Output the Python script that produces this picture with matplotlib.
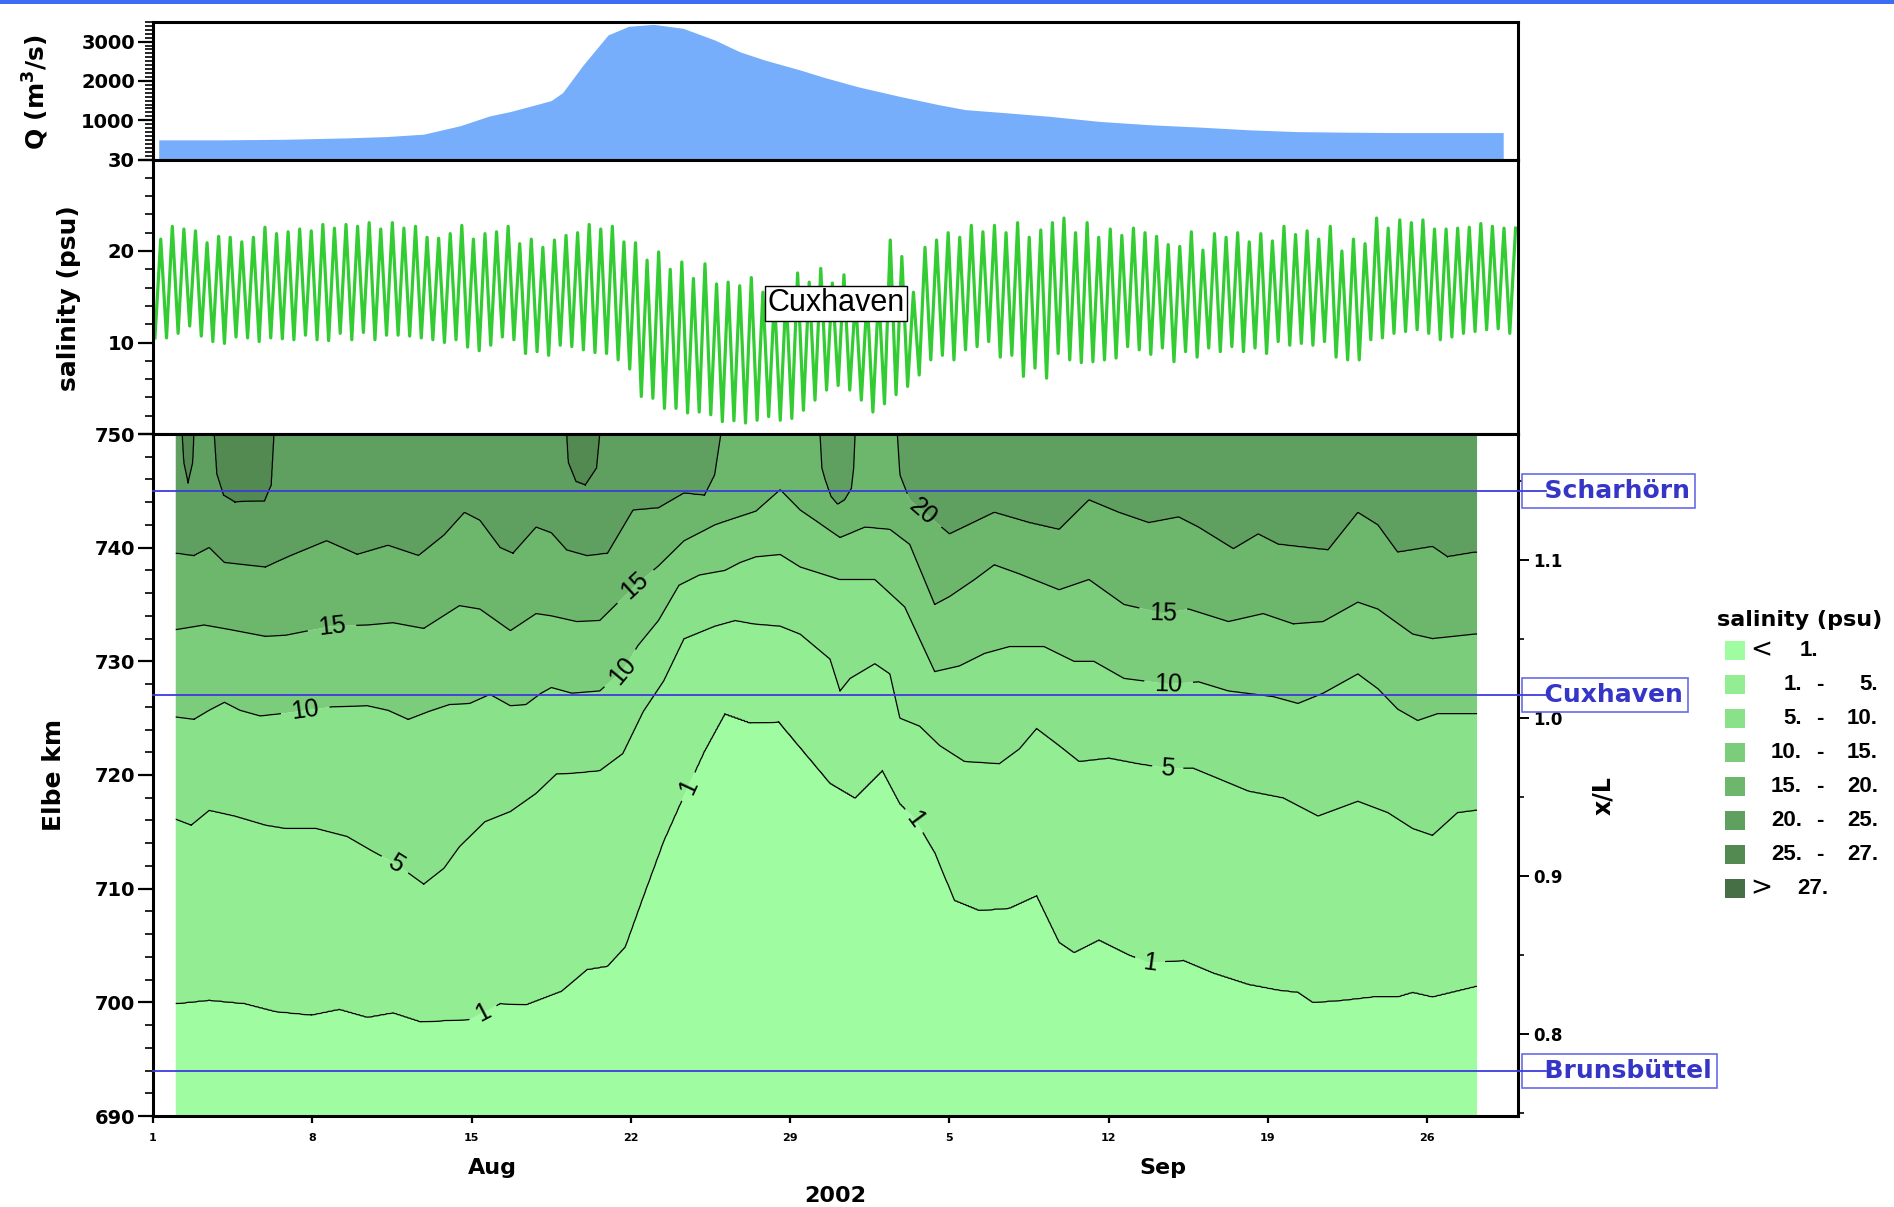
import numpy as np
import pandas as pd
import matplotlib
matplotlib.use('agg')
import matplotlib.pyplot as plt
import matplotlib.transforms as mtransforms
from matplotlib.patches import Rectangle
from matplotlib.ticker import MultipleLocator

plt.rcParams['font.family'] = ['DejaVu Sans']
plt.rcParams['font.weight'] = 'bold'
plt.rcParams['axes.labelweight'] = 'bold'

# --- time axis (days since 1 Aug 2002) ---
BASE = pd.Timestamp('2002-08-01')
tick_dates = pd.to_datetime(['2002-08-01', '2002-08-08', '2002-08-15', '2002-08-22', '2002-08-29',
                             '2002-09-05', '2002-09-12', '2002-09-19', '2002-09-26'])
tick_days = np.asarray((tick_dates - BASE).days, dtype=float)
tick_labels = [str(d.day) for d in tick_dates]
month_names = ['Aug', 'Sep']
month_label_day = [14.9, 44.4]
year_label = '2002'
x_end_day = 60.0

# --- river discharge Q (m3/s) ---
q_day = [0.25, 3.0, 5.8, 8.5, 10.3, 11.9, 13.5, 14.8, 15.7, 16.8, 17.5, 18.0, 18.9, 20.0, 20.9,
         22.0, 23.3, 24.7, 25.8, 26.9, 28.5, 29.5, 31.0, 32.8, 34.5, 35.7, 37.6, 39.4, 41.6,
         43.8, 46.0, 48.2, 50.3, 52.5, 54.7, 56.9, 59.35]
q_val = [500, 500, 515, 550, 585, 645, 860, 1110, 1220, 1390, 1500, 1700, 2400, 3170, 3390,
         3440, 3340, 3040, 2740, 2530, 2270, 2090, 1850, 1610, 1400, 1270, 1185, 1100, 970,
         885, 825, 755, 710, 695, 686, 686, 686]

# --- salinity at Cuxhaven: tidal high / low water values ---
first_high_day = 0.34
tide_period = 0.509
sal_low0 = 10.5
sal_high = [21.3, 22.7, 22.4, 22.2, 20.9, 21.6, 21.5, 21.0, 21.5, 22.6, 21.9, 22.1, 22.4, 22.2, 22.9,
            22.5, 22.9, 22.7, 23.1, 22.4, 23.1, 22.5, 22.7, 21.5, 21.4, 21.9, 22.8, 21.3, 21.9, 22.1,
            22.7, 20.8, 21.3, 20.4, 21.2, 21.7, 22.0, 22.9, 22.4, 22.7, 21.0, 20.9, 19.0, 19.9, 18.0,
            18.8, 17.0, 18.6, 16.4, 16.6, 16.2, 17.1, 15.5, 15.0, 15.5, 17.6, 16.6, 18.1, 16.5,
            17.4, 15.0, 15.0, 15.5, 21.2, 19.4, 15.5, 20.4, 21.2, 22.0, 21.5, 22.8, 22.1, 22.8, 22.0,
            23.1, 21.5, 22.3, 23.1, 23.6, 22.0, 23.1, 21.5, 22.4, 21.7, 22.5, 22.0, 21.6, 20.7,
            20.5, 22.1, 20.1, 21.9, 21.5, 22.0, 21.0, 21.9, 21.1, 22.7, 21.8, 22.2, 21.3, 22.7, 20.0,
            21.3, 20.8, 23.6, 22.5, 23.4, 23.1, 23.4, 22.4, 22.4, 22.5, 22.6, 23.0, 22.7, 22.5, 22.5]
sal_low = [10.5, 11.0, 11.8, 10.7, 10.1, 9.9, 10.6, 10.5, 10.1, 10.5, 10.4, 10.3, 10.8, 10.3, 10.2,
           11.0, 10.3, 11.1, 10.3, 10.8, 10.8, 10.7, 10.5, 10.3, 10.0, 10.3, 9.5, 9.1, 9.7,
           10.6, 10.3, 8.8, 9.0, 8.6, 9.7, 9.55, 9.2, 8.9, 8.8, 8.1, 7.1, 4.1, 3.9, 2.8,
           2.8, 2.3, 2.4, 2.1, 1.35, 1.45, 1.2, 1.5, 1.9, 1.5, 1.7, 2.6, 3.7, 4.8, 5.3,
           4.8, 3.7, 2.4, 3.3, 4.3, 5.2, 6.45, 8.1, 8.6, 8.1, 9.2, 9.55, 10.1, 8.4, 8.6,
           6.3, 7.2, 6.1, 8.8, 8.1, 7.8, 7.9, 8.1, 8.3, 9.55, 9.2, 8.7, 9.4, 7.9,
           9.0, 8.4, 9.4, 9.0, 9.55, 9.0, 9.4, 8.8, 10.1, 9.7, 9.9, 9.7, 10.1, 8.4, 8.1,
           8.1, 10.3, 10.5, 11.0, 11.2, 11.4, 11.0, 10.3, 10.6, 11.0, 11.2, 11.4, 11.5, 11.0]

# --- isohaline positions along the Elbe (km) read from the section ---
iso1_day = [1.03, 2.47, 4.04, 5.39, 6.96, 8.19, 9.43, 10.55, 11.78, 12.79, 13.92, 15.26, 16.39, 17.96,
            19.08, 19.98, 20.76, 21.55, 22.45, 23.34, 24.24, 25.14, 26.26, 27.5, 28.67, 29.76, 30.86,
            32.06, 32.83, 33.48, 34.36, 35.23, 36.33, 37.64, 38.84, 39.83, 40.49, 41.58, 42.89, 43.77,
            45.3, 46.61, 48.15, 49.46, 50.33, 50.99, 52.31, 53.62, 54.71, 55.37, 56.24, 58.1]
iso1_km = [699.9, 700.2, 699.9, 699.2, 698.9, 699.4, 698.7, 699.1, 698.3, 698.4, 698.5, 699.9, 699.8, 701.0,
           702.9, 703.2, 704.9, 709.3, 714.2, 718.2, 722.1, 725.4, 724.6, 724.7, 721.9, 719.3, 718.0,
           720.4, 717.5, 716.2, 713.2, 709.0, 708.1, 708.3, 709.4, 705.3, 704.4, 705.5, 704.2, 703.5,
           703.7, 702.6, 701.6, 701.1, 700.9, 700.0, 700.2, 700.5, 700.5, 700.9, 700.5, 701.4]
iso5_day = [1.03, 1.68, 2.47, 3.59, 4.94, 5.84, 7.18, 8.53, 9.65, 10.66, 11.9, 12.79, 13.47, 14.59, 15.71,
            16.84, 17.73, 18.63, 19.64, 20.65, 21.55, 22.45, 23.34, 24.69, 25.59, 26.4, 27.57, 28.45,
            29.76, 30.2, 30.64, 31.73, 32.39, 32.83, 33.7, 34.58, 35.67, 37.2, 38.08, 38.84, 39.83,
            40.71, 42.02, 43.33, 44.64, 45.74, 46.83, 48.15, 49.68, 51.21, 52.96, 54.28, 55.37, 56.24,
            57.34, 58.1]
iso5_km = [716.1, 715.6, 716.9, 716.4, 715.6, 715.3, 715.3, 714.6, 713.3, 712.2, 710.4, 711.8, 713.7, 715.9,
           716.8, 718.4, 720.1, 720.2, 720.4, 721.9, 725.6, 728.3, 732.0, 733.1, 733.6, 733.3, 733.1,
           732.4, 730.2, 727.4, 728.5, 729.8, 728.9, 725.0, 724.3, 722.6, 721.2, 721.0, 722.3, 724.1,
           722.6, 721.2, 721.5, 721.0, 720.6, 720.6, 719.7, 718.6, 718.0, 716.4, 717.7, 716.7, 715.3,
           714.7, 716.7, 716.9]
iso10_day = [1.03, 1.8, 2.47, 3.14, 3.82, 4.71, 5.61, 6.73, 7.86, 9.43, 10.33, 11.22, 12.12, 13.02, 13.92,
             14.81, 15.71, 16.39, 17.06, 17.51, 18.41, 19.64, 20.65, 21.32, 22.22, 23.12, 24.02, 25.14,
             25.81, 26.5, 27.57, 28.45, 30.2, 31.73, 33.04, 34.36, 35.45, 36.55, 37.64, 39.17, 40.49,
             41.36, 42.68, 44.64, 45.96, 47.27, 49.24, 50.33, 51.43, 52.96, 53.84, 54.71, 55.59, 56.46, 58.1]
iso10_km = [725.1, 724.9, 725.7, 726.4, 725.7, 725.2, 725.4, 725.7, 726.0, 726.1, 725.7, 724.9, 725.6, 726.2,
            726.3, 727.1, 726.1, 726.2, 727.2, 727.7, 727.2, 727.4, 729.2, 731.4, 733.6, 736.7, 737.6,
            738.0, 738.7, 739.2, 739.4, 738.3, 737.2, 737.2, 734.8, 729.1, 729.6, 730.7, 731.3, 731.3,
            730.0, 730.0, 728.5, 728.0, 728.2, 727.4, 726.9, 726.3, 727.2, 728.9, 727.6, 725.8, 724.8,
            725.4, 725.4]
iso15_day = [1.03, 2.24, 3.37, 4.94, 5.84, 7.86, 9.43, 10.55, 11.9, 13.47, 14.37, 15.71, 16.84, 17.51,
             18.63, 19.64, 21.21, 22.22, 23.34, 24.69, 25.59, 26.5, 27.57, 28.45, 30.2, 31.3, 32.39,
             33.26, 34.36, 35.01, 36.11, 36.98, 38.08, 39.83, 41.14, 42.68, 44.43, 45.52, 47.27, 48.8,
             50.12, 51.43, 52.96, 53.84, 55.37, 56.24, 58.1]
iso15_km = [732.8, 733.2, 732.8, 732.2, 732.3, 733.1, 733.2, 733.4, 732.9, 734.9, 734.6, 732.7, 734.2, 734.0,
            733.5, 733.6, 736.7, 738.4, 740.6, 742.0, 742.6, 743.2, 745.1, 743.3, 740.9, 741.8, 741.6,
            740.3, 735.0, 735.7, 737.2, 738.5, 737.7, 736.3, 737.2, 735.0, 734.2, 734.6, 733.5, 734.2,
            733.3, 733.5, 735.2, 734.6, 732.4, 732.0, 732.4]
# values above 750 km mean the isohaline lies seaward of the plotted section
iso20_day = [1.03, 1.8, 2.47, 3.14, 4.94, 6.06, 7.63, 8.98, 10.33, 11.67, 12.79, 13.69, 14.37, 15.26, 15.82,
             16.84, 17.51, 18.18, 19.08, 19.98, 21.1, 22.22, 23.34, 24.24, 24.69, 24.96, 25.1, 29.2,
             29.32, 29.4, 29.54, 29.8, 30.09, 30.4, 30.7, 30.8, 30.86, 31.0, 32.6, 32.72, 32.78, 32.83,
             33.26, 35.01, 36.98, 38.52, 39.83, 41.14, 42.46, 43.77, 45.08, 45.96, 47.49, 48.58, 49.46,
             50.33, 51.65, 52.96, 53.84, 54.71, 56.24, 56.9, 58.1]
iso20_km = [739.5, 739.3, 740.0, 738.7, 738.3, 739.3, 740.6, 739.4, 740.2, 739.3, 741.1, 743.1, 742.4, 740.0,
            739.5, 741.8, 741.3, 739.8, 739.3, 739.5, 743.3, 743.5, 744.8, 744.6, 746.4, 750.0, 752.0,
            752.0, 750.0, 747.0, 746.0, 744.5, 743.8, 744.2, 745.2, 747.0, 750.0, 752.0, 752.0, 750.0,
            748.0, 746.4, 744.2, 741.2, 743.1, 742.2, 741.6, 744.2, 743.1, 742.2, 742.7, 741.8, 739.9,
            741.2, 740.3, 740.1, 739.8, 743.1, 742.0, 739.6, 740.1, 739.2, 739.6]
iso25_day = [1.0, 1.2, 1.28, 1.35, 1.54, 1.75, 1.8, 1.9, 2.55, 2.69, 2.8, 3.1, 3.6, 4.9, 5.2, 5.32, 5.45,
             18.0, 18.18, 18.25, 18.6, 19.0, 19.5, 19.64, 19.8, 58.2]
iso25_km = [756.0, 756.0, 750.0, 747.5, 745.7, 747.5, 750.0, 756.0, 756.0, 750.0, 746.5, 744.6, 744.0,
            744.1, 745.5, 750.0, 756.0, 756.0, 750.0, 747.5, 745.8, 745.5, 747.0, 750.0, 756.0, 756.0]
section_start_day = 1.0
section_end_day = 58.2

sal_bounds = [0, 1, 5, 10, 15, 20, 25, 27, 30]
sal_colors = ['#a0fca0', '#93ee93', '#89e289', '#7bcd7b', '#6db76d', '#5f9f5f', '#528a52', '#466f46']
label_pos = [(7.86, 733.1), (6.7, 725.6), (10.66, 712.2), (14.48, 699.4), (21.2, 736.6),
             (20.65, 729.2), (23.5, 719.0), (33.7, 742.8), (33.4, 716.0), (44.4, 734.2),
             (44.64, 728.0), (44.6, 720.6), (43.8, 703.5)]

station_names = ['Scharhörn', 'Cuxhaven', 'Brunsbüttel']
station_km = [745.0, 727.0, 694.0]
xl_origin_km = 586.0
xl_length_km = 139.0

HELV = ['Liberation Sans', 'DejaVu Sans']

# --- figure ---
W, H = 1894, 1207
fig = plt.figure(figsize=(W / 100, H / 100), dpi=100)
left, width = 153 / W, 1365 / W
ax_q = fig.add_axes([left, 1 - 159.5 / H, width, 137.5 / H])
ax_s = fig.add_axes([left, 1 - 434 / H, width, 274.5 / H])
ax_c = fig.add_axes([left, 1 - 1116 / H, width, 682 / H])

# discharge
ax_q.fill_between(q_day, 0, q_val, color='#77aefc', lw=0)
ax_q.set_ylim(0, 3500)
ax_q.set_yticks([0, 1000, 2000, 3000])
ax_q.set_yticklabels(['', '1000', '2000', '3000'])
ax_q.yaxis.set_minor_locator(MultipleLocator(100))
ax_q.set_ylabel(r'Q (m$^\mathbf{3}$/s)', fontsize=18, fontweight='bold')
ax_q.yaxis.set_label_coords(-0.0747, 0.488)

# salinity time series
t_line = [first_high_day - tide_period / 2]
s_line = [sal_low0]
for k, hi in enumerate(sal_high):
    t_hi = first_high_day + k * tide_period
    t_line.append(t_hi)
    s_line.append(hi)
    if k < len(sal_low):
        t_line.append(t_hi + tide_period / 2)
        s_line.append(sal_low[k])
ax_s.plot(t_line, s_line, color='#33cc33', lw=2.3, solid_joinstyle='round')
ax_s.set_ylim(0, 30)
ax_s.set_yticks([0, 10, 20, 30])
ax_s.set_yticklabels(['', '10', '20', '30'])
ax_s.yaxis.set_minor_locator(MultipleLocator(2))
ax_s.set_ylabel('salinity (psu)', fontsize=18, fontweight='bold')
ax_s.yaxis.set_label_coords(-0.0527, 0.496)
ax_s.text(30.04, 14.3, 'Cuxhaven', ha='center', va='center', fontsize=22, fontweight='normal',
          family=HELV, zorder=5,
          bbox=dict(boxstyle='square,pad=0.08', fc='white', ec='black', lw=1.0))

# salinity section
t_grid = np.arange(section_start_day, section_end_day + 1e-9, 0.02)
km_grid = np.arange(690.0, 750.0 + 1e-9, 0.1)
tracks = [np.interp(t_grid, d, k) for d, k in [(iso1_day, iso1_km), (iso5_day, iso5_km),
                                               (iso10_day, iso10_km), (iso15_day, iso15_km),
                                               (iso20_day, iso20_km), (iso25_day, iso25_km)]]
level_vals = [0, 1, 5, 10, 15, 20, 25, 27, 30]
S = np.empty((km_grid.size, t_grid.size))
for j in range(t_grid.size):
    xp = [680.0] + [tr[j] for tr in tracks] + [760.0, 770.0]
    S[:, j] = np.interp(km_grid, xp, level_vals)

ax_c.contourf(t_grid, km_grid, S, levels=sal_bounds, colors=sal_colors, antialiased=True)
ax_c.set_xlim(0, x_end_day)
ax_c.set_ylim(690, 750)
cs = ax_c.contour(t_grid, km_grid, S, levels=[1, 5, 10, 15, 20, 25], colors='black', linewidths=0.9)
lbls = ax_c.clabel(cs, levels=[1, 5, 10, 15, 20], manual=label_pos, inline=True, fmt='%d',
                   fontsize=18, inline_spacing=7)
for t in lbls:
    t.set_fontweight('normal')
    t.set_family(HELV)

ax_c.set_yticks(np.arange(690, 751, 10))
ax_c.yaxis.set_minor_locator(MultipleLocator(2))
ax_c.set_ylabel('Elbe km', fontsize=18, fontweight='bold')
ax_c.yaxis.set_label_coords(-0.0634, 0.5)
ax_c.set_xticks(tick_days)
ax_c.set_xticklabels(tick_labels)
xtrans = mtransforms.blended_transform_factory(ax_c.transData, ax_c.transAxes)
for name, d in zip(month_names, month_label_day):
    ax_c.text(d, -0.0762, name, transform=xtrans, ha='center', va='center', fontsize=16)
ax_c.text(30.0, -0.117, year_label, transform=xtrans, ha='center', va='center', fontsize=16)

for ax in (ax_q, ax_s, ax_c):
    ax.set_xlim(0, x_end_day)
    for sp in ax.spines.values():
        sp.set_linewidth(2.2)
    ax.tick_params(axis='y', which='major', direction='out', length=11, width=1.6, pad=2, labelsize=14)
    ax.tick_params(axis='y', which='minor', direction='out', length=5.5, width=1.2)
for ax in (ax_q, ax_s):
    ax.tick_params(axis='x', which='both', bottom=False, labelbottom=False)
ax_c.tick_params(axis='x', which='major', direction='out', length=5, width=1.6, pad=7, labelsize=8)

# x/L axis on the right
ax_r = ax_c.twinx()
ax_r.set_ylim((690 - xl_origin_km) / xl_length_km, (750 - xl_origin_km) / xl_length_km)
ax_r.set_yticks([0.8, 0.9, 1.0, 1.1])
ax_r.set_yticklabels(['0.8', '0.9', '1.0', '1.1'])
ax_r.yaxis.set_minor_locator(MultipleLocator(0.05))
ax_r.tick_params(axis='y', which='major', direction='out', length=8, width=1.4, pad=3, labelsize=12)
ax_r.tick_params(axis='y', which='minor', direction='out', length=4, width=1.2)
for sp in ax_r.spines.values():
    sp.set_visible(False)
ax_r.set_ylabel('x/L', fontsize=17, fontweight='bold')
ax_r.yaxis.set_label_coords(1.0535, 0.47)

# station lines and labels
st_trans = mtransforms.blended_transform_factory(ax_r.transAxes, ax_c.transData)
for name, km in zip(station_names, station_km):
    ax_r.plot([0, 1.0205], [km, km], transform=st_trans, color='#3c3cdc', lw=1.3,
              clip_on=False, zorder=6)
    ax_r.text(1.0066, km, '  ' + name, transform=st_trans, ha='left', va='center', fontsize=18,
              color='#3535c8', zorder=5,
              bbox=dict(boxstyle='square,pad=0.2', fc='white', ec='#6a6ae8', lw=1.2))

# overlay in pixel coordinates: top bar and legend
ov = fig.add_axes([0, 0, 1, 1], zorder=10)
ov.set_xlim(0, W)
ov.set_ylim(H, 0)
ov.axis('off')
ov.patch.set_alpha(0)
ov.add_patch(Rectangle((0, 0), W, 4, color='#3a6cf4', lw=0))
ov.text(1717, 620, 'salinity (psu)', ha='left', va='center', fontsize=16)
num_kw = dict(va='center', fontsize=16, fontweight='bold', family=HELV)
for i, col in enumerate(sal_colors):
    y = 650 + i * 34.0
    ov.add_patch(Rectangle((1725, y - 9.5), 20, 19, color=col, lw=0))
    lo, hi = sal_bounds[i], sal_bounds[i + 1]
    if i == 0:
        ov.text(1761, y, '<', ha='center', va='center', fontsize=19, fontweight='normal')
        ov.text(1818, y, f'{hi}.', ha='right', **num_kw)
    elif i == len(sal_colors) - 1:
        ov.text(1761, y, '>', ha='center', va='center', fontsize=19, fontweight='normal')
        ov.text(1828, y, f'{lo}.', ha='right', **num_kw)
    else:
        ov.text(1802, y, f'{lo}.', ha='right', **num_kw)
        ov.text(1820, y, '-', ha='center', **num_kw)
        ov.text(1878, y, f'{hi}.', ha='right', **num_kw)

fig.savefig('out.png', dpi=100)
